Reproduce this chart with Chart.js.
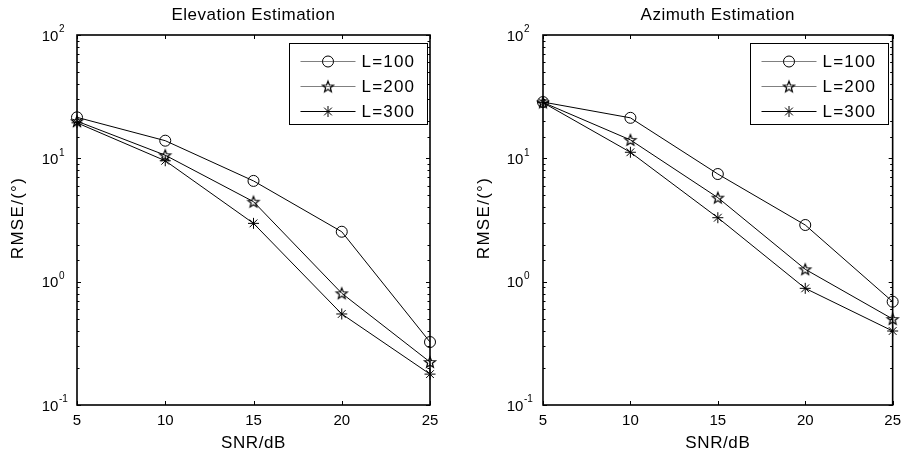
<!DOCTYPE html>
<html><head><meta charset="utf-8">
<script src="https://cdn.jsdelivr.net/npm/chart.js@4/dist/chart.umd.min.js"></script>
<style>
html,body{margin:0;padding:0;background:#fff;}
#wrap{position:relative;width:908px;height:454px;overflow:hidden;background:#fff;}
.c{position:absolute;top:0;}
</style></head><body>
<div id="wrap">
<div class="c" style="left:0;width:460px;height:454px"><canvas id="c1" width="460" height="454"></canvas></div>
<div class="c" style="left:460px;width:448px;height:454px"><canvas id="c2" width="448" height="454"></canvas></div>
</div>
<script>
// ---- data ----
const snr = [5, 10, 15, 20, 25];
const seriesLabels = ['L=100', 'L=200', 'L=300'];
const elevL100 = [21.5, 13.9, 6.56, 2.54, 0.324];
const elevL200 = [20.0, 10.6, 4.45, 0.805, 0.223];
const elevL300 = [19.4, 9.56, 2.97, 0.547, 0.178];
const azimL100 = [28.6, 21.3, 7.46, 2.88, 0.688];
const azimL200 = [28.4, 14.1, 4.80, 1.26, 0.498];
const azimL300 = [28.3, 11.2, 3.30, 0.883, 0.398];
const xTickValues = [5, 10, 15, 20, 25];
const yTickBase = '10';
const yTickExponents = ['-1', '0', '1', '2']; // 0.1, 1, 10, 100
const chartTitles = ['Elevation Estimation', 'Azimuth Estimation'];
const xTitle = 'SNR/dB';
const yTitle = 'RMSE/(\u00B0)';

const FONT = '"Liberation Sans", Arial, Helvetica, sans-serif';
const TICK_SIZE = 15;

function makePentagram(r) {
  const s = Math.ceil(r * 2 + 4);
  const c = document.createElement('canvas');
  c.width = s; c.height = s;
  const g = c.getContext('2d');
  const cx = s / 2, cy = s / 2 + 0.5, ri = r * 0.42;
  g.beginPath();
  for (let i = 0; i < 10; i++) {
    const ang = -Math.PI / 2 + i * Math.PI / 5;
    const rr = i % 2 === 0 ? r : ri;
    const x = cx + rr * Math.cos(ang), y = cy + rr * Math.sin(ang);
    if (i) g.lineTo(x, y); else g.moveTo(x, y);
  }
  g.closePath();
  g.strokeStyle = '#000'; g.lineWidth = 1.2; g.stroke();
  return c;
}
const pentagram = makePentagram(5.8);
const markerStyles = ['circle', pentagram, 'star'];
const markerRadius = [5.5, 5.8, 5.5];
const legendLineColors = ['#808080', '#808080', '#000'];

function majorIndex(v) {
  const l = Math.log10(v);
  const r = Math.round(l);
  return Math.abs(l - r) < 1e-6 ? r + 1 : -1;
}

const decor = {
  id: 'decor',
  beforeDatasetsDraw(chart) {
    const ctx = chart.ctx, a = chart.chartArea, xs = chart.scales.x, ys = chart.scales.y;
    ctx.save();
    ctx.strokeStyle = '#000';
    ctx.lineWidth = 1;
    ctx.beginPath();
    xs.ticks.forEach(t => {
      const px = Math.round(xs.getPixelForValue(t.value)) + 0.5;
      ctx.moveTo(px, a.bottom); ctx.lineTo(px, a.bottom - 4);
      ctx.moveTo(px, a.top); ctx.lineTo(px, a.top + 4);
    });
    ys.ticks.forEach(t => {
      const len = majorIndex(t.value) >= 0 ? 4 : 2.5;
      const py = Math.round(ys.getPixelForValue(t.value)) + 0.5;
      ctx.moveTo(a.left, py); ctx.lineTo(a.left + len, py);
      ctx.moveTo(a.right, py); ctx.lineTo(a.right - len, py);
    });
    ctx.stroke();
    ctx.lineWidth = 1.6;
    ctx.strokeRect(a.left, a.top, a.right - a.left, a.bottom - a.top);
    ctx.restore();
  },
  afterDraw(chart, args, opts) {
    const ctx = chart.ctx, a = chart.chartArea, ys = chart.scales.y;
    const cxm = (a.left + a.right) / 2;
    ctx.save();
    ctx.fillStyle = '#000';
    // exponents of the y tick labels
    ctx.font = TICK_SIZE + 'px ' + FONT;
    const baseW = ctx.measureText(yTickBase).width;
    ctx.font = '10px ' + FONT;
    ctx.textAlign = 'left';
    ctx.textBaseline = 'middle';
    ys.ticks.forEach(t => {
      const k = majorIndex(t.value);
      if (k < 0) return;
      const py = ys.getPixelForValue(t.value);
      ctx.fillText(yTickExponents[k], ys.left + baseW + 0.5, py - 5.5);
    });
    ctx.textAlign = 'center';
    // title
    ctx.font = '17px ' + FONT;
    ctx.letterSpacing = '0.5px';
    ctx.fillText(opts.title, cxm, 15.5);
    // x title
    ctx.font = '17px ' + FONT;
    ctx.letterSpacing = '0.6px';
    ctx.fillText(xTitle, cxm, 443);
    // y title
    ctx.save();
    ctx.translate(a.left - 59, (a.top + a.bottom) / 2 - 2);
    ctx.rotate(-Math.PI / 2);
    ctx.letterSpacing = '1.3px';
    ctx.fillText(yTitle, 0, 0);
    ctx.restore();
    // legend
    const bw = 138, bh = 81;
    const bx = Math.round(a.right - opts.legendRight - bw) + 0.5, by = Math.round(a.top + 8) + 0.5;
    ctx.fillStyle = '#fff';
    ctx.fillRect(bx, by, bw, bh);
    ctx.strokeStyle = '#000';
    ctx.lineWidth = 1;
    ctx.strokeRect(bx, by, bw, bh);
    ctx.font = '17px ' + FONT;
    ctx.letterSpacing = '1.2px';
    ctx.textAlign = 'left';
    chart.data.datasets.forEach((ds, i) => {
      const yy = Math.round(by + 17 + i * 25) + 0.5;
      ctx.strokeStyle = legendLineColors[i];
      ctx.lineWidth = 1;
      ctx.beginPath();
      ctx.moveTo(bx + 11, yy); ctx.lineTo(bx + 66, yy);
      ctx.stroke();
      ctx.strokeStyle = '#000';
      ctx.fillStyle = 'rgba(0,0,0,0)';
      Chart.helpers.drawPoint(ctx, {pointStyle: ds.pointStyle, rotation: 0, radius: ds.pointRadius, borderWidth: 1}, bx + 38.5, yy);
      ctx.fillStyle = '#000';
      ctx.fillText(ds.label, bx + 72, yy + 1);
    });
    ctx.restore();
  }
};

function makeChart(id, title, series, padLeft, yWidth, padRight, legendRight) {
  const datasets = series.map((vals, i) => ({
    label: seriesLabels[i],
    data: snr.map((x, j) => ({x: x, y: vals[j]})),
    borderColor: '#000',
    borderWidth: 1,
    pointStyle: markerStyles[i],
    pointRadius: markerRadius[i],
    pointHoverRadius: markerRadius[i],
    pointBorderColor: '#000',
    pointBackgroundColor: 'rgba(0,0,0,0)',
    pointBorderWidth: 1,
    fill: false,
    tension: 0,
    clip: false
  }));
  return new Chart(document.getElementById(id), {
    type: 'line',
    data: {datasets},
    options: {
      responsive: false,
      animation: false,
      devicePixelRatio: 1,
      layout: {padding: {left: padLeft, right: padRight, top: 35, bottom: 0}},
      plugins: {
        legend: {display: false},
        title: {display: false, text: title},
        tooltip: {enabled: false},
        decor: {title: title, legendRight: legendRight}
      },
      scales: {
        x: {
          type: 'linear', min: 5, max: 25,
          afterBuildTicks: s => { s.ticks = xTickValues.map(v => ({value: v})); },
          afterFit: s => { s.height = 49; },
          grid: {display: false, drawTicks: false},
          border: {display: false},
          ticks: {color: '#000', padding: 7, font: {family: FONT, size: TICK_SIZE}, maxRotation: 0, autoSkip: false}
        },
        y: {
          type: 'logarithmic', min: 0.1, max: 100,
          afterFit: s => { s.width = yWidth; },
          grid: {display: false, drawTicks: false},
          border: {display: false},
          ticks: {
            color: '#000', crossAlign: 'far', autoSkip: false, labelOffset: 1.5,
            font: {family: FONT, size: TICK_SIZE},
            callback: v => (majorIndex(v) >= 0 ? yTickBase : '')
          }
        }
      }
    },
    plugins: [decor]
  });
}

makeChart('c1', chartTitles[0], [elevL100, elevL200, elevL300], 41.7, 35.3, 30, 3);
makeChart('c2', chartTitles[1], [azimL100, azimL200, azimL300], 46.7, 36.3, 11, 5);
</script>
</body></html>
